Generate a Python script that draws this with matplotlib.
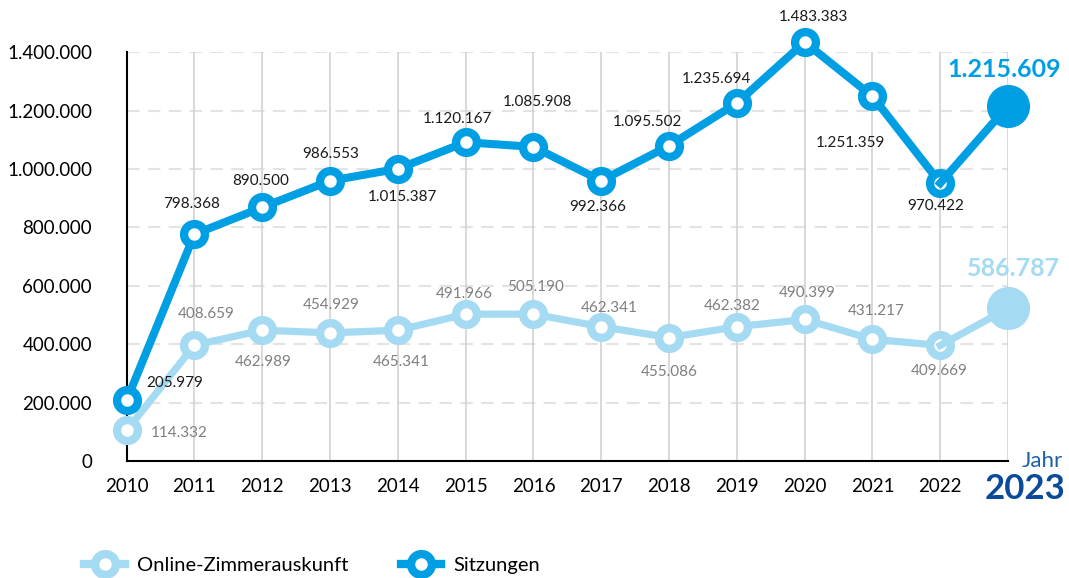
import matplotlib.pyplot as plt
from matplotlib.lines import Line2D

plt.rcParams['font.family'] = ['Lato', 'DejaVu Sans']

# Data
years = list(range(2010, 2024))
sitzungen = [208000, 777000, 869000, 960000, 1001000, 1092000, 1076000,
             960000, 1080000, 1226000, 1435000, 1249000, 952000, 1217000]
online = [105000, 397000, 448000, 439000, 448000, 503000, 503000,
          460000, 423000, 460000, 485000, 417000, 396000, 523000]
sitzungen_labels = ['205.979', '798.368', '890.500', '986.553', '1.015.387',
                    '1.120.167', '1.085.908', '992.366', '1.095.502',
                    '1.235.694', '1.483.383', '1.251.359', '970.422',
                    '1.215.609']
online_labels = ['114.332', '408.659', '462.989', '454.929', '465.341',
                 '491.966', '505.190', '462.341', '455.086', '462.382',
                 '490.399', '431.217', '409.669', '586.787']
yticks = [0, 200000, 400000, 600000, 800000, 1000000, 1200000, 1400000]
ytick_labels = ['0', '200.000', '400.000', '600.000', '800.000',
                '1.000.000', '1.200.000', '1.400.000']

# label offsets in pixels (dx, dy)
sitz_off = [(48, 17), (-3, 30), (-2, 26), (1, 27), (5, -28), (-8, 23),
            (4, 45), (-4, -26), (-22, 24), (-20, 24), (9, 25), (-22, -47),
            (-5, -23), (-4, 36)]
online_off = [(53, -3), (12, 31), (1, -32), (1, 28), (3, -32), (-1, 20),
              (2, 27), (8, 19), (0, -34), (-5, 21), (3, 26), (4, 28),
              (-1, -26), (5, 40)]

dark = '#009fe3'
light = '#a5daf3'
navy = '#0a4a9a'

fig = plt.figure(figsize=(10.69, 5.78), dpi=100)
ax = fig.add_axes([0.1185, 0.2024, 0.9430 - 0.1185, 0.9095 - 0.2024])

ax.set_xlim(2010, 2023)
ax.set_ylim(0, 1400000)

# grid
for y in yticks[1:]:
    ax.axhline(y, color='#e3e3e3', lw=1.5, ls=(0, (6, 4)), zorder=0)
for x in years[1:]:
    ax.axvline(x, color='#d2d2d2', lw=1.2, zorder=0)

for s in ['top', 'right']:
    ax.spines[s].set_visible(False)
ax.spines['left'].set_linewidth(1.5)
ax.spines['bottom'].set_linewidth(1.5)

# lines
ax.plot(years[:-1], online[:-1], color=light, lw=5.2, marker='o', ms=15,
        mfc='white', mec=light, mew=6, clip_on=False, zorder=3)
ax.plot(years[-2:], online[-2:], color=light, lw=5.2, clip_on=False, zorder=3)
ax.plot(years[-1], online[-1], 'o', color=light, ms=30, clip_on=False,
        zorder=3)

ax.plot(years[:-1], sitzungen[:-1], color=dark, lw=5.8, marker='o', ms=15,
        mfc='white', mec=dark, mew=6, clip_on=False, zorder=4)
ax.plot(years[-2:], sitzungen[-2:], color=dark, lw=5.8, clip_on=False,
        zorder=4)
ax.plot(years[-1], sitzungen[-1], 'o', color=dark, ms=30, clip_on=False,
        zorder=4)

# data labels
for i in range(len(years)):
    last = i == len(years) - 1
    ax.annotate(sitzungen_labels[i], (years[i], sitzungen[i]),
                xytext=sitz_off[i], textcoords='offset pixels',
                ha='center', va='center',
                fontsize=18 if last else 11,
                fontweight='bold' if last else 'normal',
                color=dark if last else '#1a1a1a', annotation_clip=False,
                zorder=5)
    ax.annotate(online_labels[i], (years[i], online[i]),
                xytext=online_off[i], textcoords='offset pixels',
                ha='center', va='center',
                fontsize=18 if last else 11,
                fontweight='bold' if last else 'normal',
                color=light if last else '#7f7f7f', annotation_clip=False,
                zorder=5)

# ticks
ax.set_yticks(yticks)
ax.set_yticklabels(ytick_labels, fontsize=13.5)
ax.set_xticks(years[:-1])
ax.set_xticklabels([str(y) for y in years[:-1]], fontsize=13.5)
ax.tick_params(length=0)
ax.tick_params(axis='y', pad=25)
ax.tick_params(axis='x', pad=12)

ax.text(2023.2, 0, 'Jahr', color='#1a5fa8', fontsize=16, ha='left',
        va='center')
ax.text(2023.25, -95000, '2023', color=navy, fontsize=25, fontweight='bold',
        ha='center', va='center')

# legend
handles = [
    Line2D([], [], color=light, lw=6, marker='o', ms=15, mfc='white',
           mec=light, mew=6),
    Line2D([], [], color=dark, lw=6, marker='o', ms=15, mfc='white',
           mec=dark, mew=6),
]
fig.legend(handles, ['Online-Zimmerauskunft', 'Sitzungen'], ncol=2,
           loc='center left', bbox_to_anchor=(0.062, 0.022), frameon=False,
           fontsize=14.5, handlelength=2.0, handletextpad=0.6,
           columnspacing=2.6)

fig.savefig('out.png', dpi=100)
